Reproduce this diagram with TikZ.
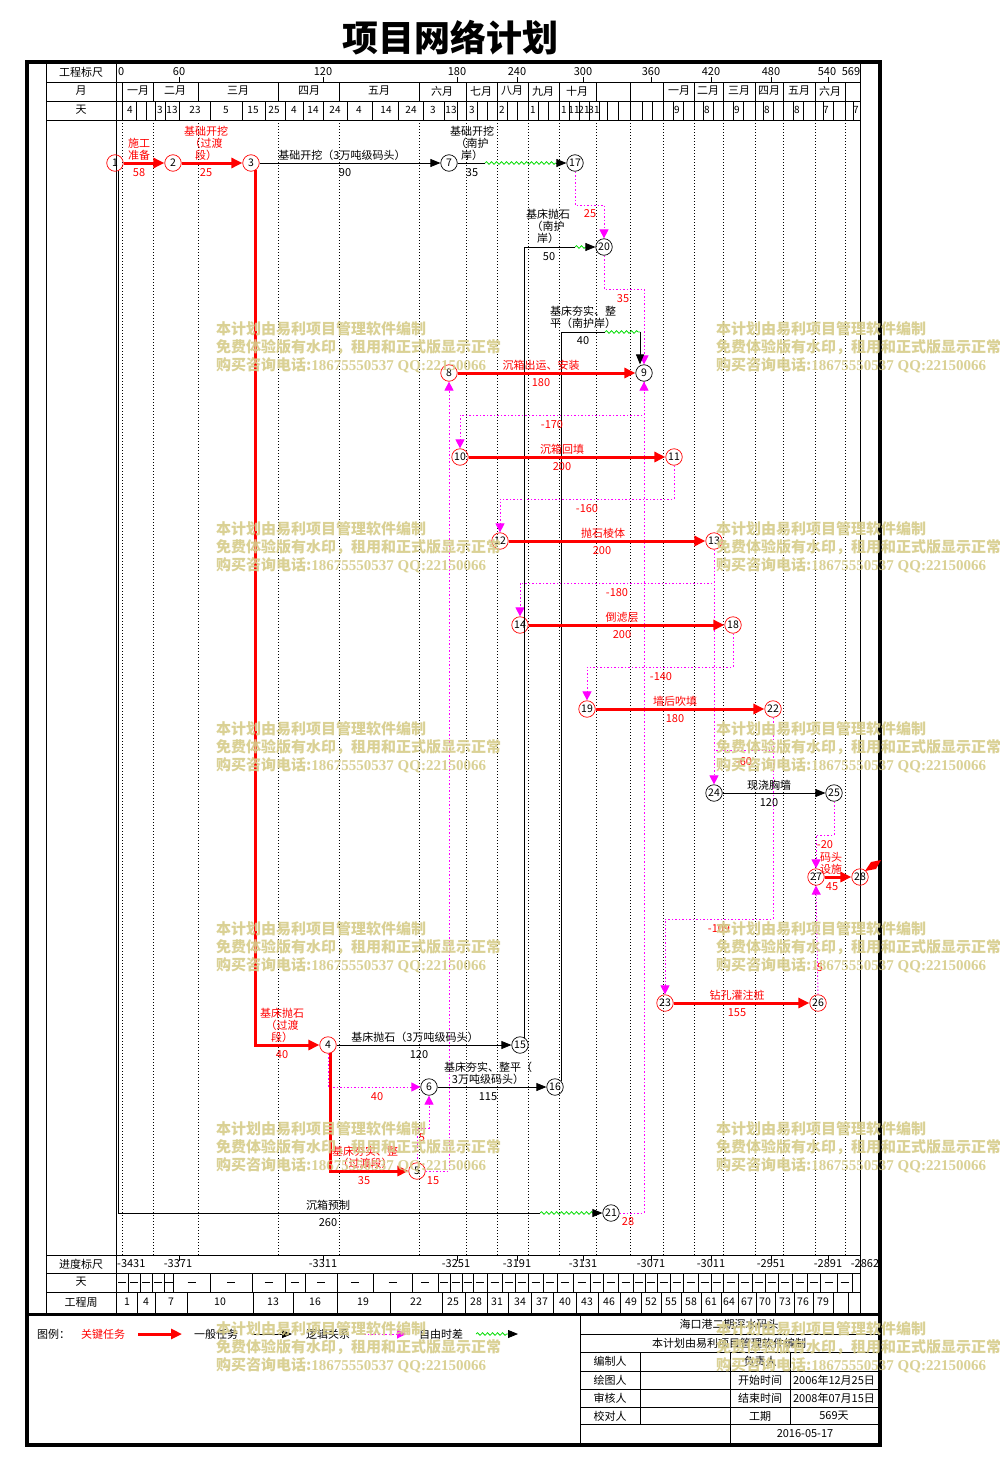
\documentclass[tikz,border=0pt]{standalone}
\usepackage{fontspec}
\setmainfont{Noto Sans CJK SC}
\newfontfamily\wmdig{Liberation Serif}
\usetikzlibrary{arrows.meta,decorations.pathmorphing,calc}
\definecolor{mag}{RGB}{255,0,255}
\definecolor{flg}{RGB}{0,220,0}
\definecolor{wmc}{RGB}{214,204,138}
\definecolor{rd}{RGB}{255,0,0}
\begin{document}
\begin{tikzpicture}[x=1pt,y=-1pt,
  nd/.style={circle,draw=black,minimum size=16.5pt,inner sep=0pt,line width=0.7pt,font=\fontsize{10.5}{11}\selectfont},
  rnd/.style={nd,draw=rd},
  crit/.style={draw=rd,line width=3pt,-{Triangle[length=11pt,width=10pt]}},
  gen/.style={draw=black,line width=0.8pt},
  genarr/.style={gen,-{Triangle[length=10pt,width=8pt]}},
  lnk/.style={draw=mag,line width=0.9pt,dash pattern=on 1.5pt off 2pt},
  lnkarr/.style={lnk,-{Triangle[length=9pt,width=9pt]}},
  flt/.style={draw=flg,line width=0.8pt,decorate,decoration={snake,amplitude=1.3pt,segment length=5pt}},
  lbl/.style={font=\fontsize{11}{12}\selectfont,inner sep=0pt,align=center},
  rl/.style={lbl,text=rd},
  hl/.style={font=\fontsize{11}{12}\selectfont,inner sep=0pt},
  gridln/.style={draw=black,line width=0.6pt,dash pattern=on 1pt off 2pt},
  thinln/.style={draw=black,line width=0.7pt},
  wmk/.style={font=\fontsize{15}{18}\selectfont\bfseries,text=wmc,inner sep=0pt,anchor=west,opacity=0.9}
]
\useasboundingbox (0,0) rectangle (999,1464);
\fill[white] (0,0) rectangle (999,1464);

% title
\node[font=\fontsize{36}{38}\selectfont\bfseries,inner sep=0pt] (title) at (450,38) {项目网络计划};

% frame and grid
\draw[line width=4pt] (27,62) rectangle (880,1445);
\draw[line width=3pt] (27,1314) -- (880,1314);
\draw[thinln] (46,62) -- (46,1314);
\draw[thinln] (116,62) -- (116,1314);
\draw[thinln] (860,62) -- (860,1314);
\foreach \y in {82,101,120,1255,1273,1292} \draw[thinln] (46,\y) -- (860,\y);
\foreach \x in {122,153,198,278,339,419,466,497,528,559,596,630,663,694,723,755,783,815,845} {
  \draw[thinln] (\x,82) -- (\x,101);
  \draw[gridln] (\x,120) -- (\x,1255);
}
\foreach \x in {122,136,146,155,165,179,210,242,265,285,303,323,347,372,398,423,444,457,466,477,487,497,507,517,528,538,548,559,569,579,589,599,607,618,630,642,652,663,673,683,694,703,713,723,733,743,755,763,773,783,793,803,815,823,833,845,853}
  \draw[thinln] (\x,101) -- (\x,120);
\foreach \x in {179,323,457,517,583,651,711,771,828} {
  \draw[thinln] (\x,77) -- (\x,82);
  \draw[thinln] (\x,1255) -- (\x,1261);
}

% header labels
\node[hl] (h1) at (81,72) {工程标尺};
\node[hl] (h2) at (81,91) {月};
\node[hl] (h3) at (81,110) {天};
\node[hl] (h4) at (81,1264) {进度标尺};
\node[hl] (h5) at (81,1282) {天};
\node[hl] (h6) at (81,1302) {工程周};

\node[hl,anchor=west] (s0) at (118,72) {0};
\foreach \x/\t [count=\i] in {179/60,323/120,457/180,517/240,583/300,651/360,711/420,771/480,827/540,851/569}
  \node[hl] (s\i) at (\x,72) {\t};

\foreach \x/\t [count=\i] in {138/一月,175/二月,238/三月,309/四月,379/五月,442/六月,481/七月,512/八月,543/九月,577/十月,679/一月,708/二月,739/三月,769/四月,799/五月,830/六月}
  \node[hl] (m\i) at (\x,91) {\t};

\foreach \x/\t [count=\i] in {130/4,160/3,172/13,195/23,226/5,253/15,274/25,294/4,313/14,335/24,359/4,386/14,411/24,433/3,451/13,472/3,502/2,533/1,564/1,574/11,584/21,594/31,677/9,707/8,737/9,767/8,797/8,826/7,856/7}
  \node[hl,font=\fontsize{10}{11}\selectfont] (d\i) at (\x,110) {\t};

% footer
\node[hl,anchor=west] (p0) at (117,1264) {-3431};
\foreach \x/\t [count=\i] in {178/-3371,323/-3311,456/-3251,517/-3191,583/-3131,651/-3071,711/-3011,771/-2951,828/-2891,865/-2862}
  \node[hl] (p\i) at (\x,1264) {\t};

\foreach \a/\b in {116/128,128/140,140/152,152/164,164/173,173/210,210/252,252/285,285/305,305/337,337/373,373/412,412/438,438/450,450/462,462/473,473/487,487/502,502/515,515/528,528/543,543/557,557/573,573/590,590/603,603/618,618/633,633/645,645/657,657/670,670/683,683/698,698/711,711/723,723/738,738/752,752/765,765/778,778/792,792/807,807/820,820/837,837/852} {
  \draw[thinln] (\b,1273) -- (\b,1292);
  \draw[line width=0.8pt] ({(\a+\b)/2-4},1282) -- ++(8,0);
}

\foreach \x in {137,155,187,253,293,337,390,442,465,487,508,531,553,576,598,620,641,661,681,701,721,738,756,775,794,813,833,848}
  \draw[thinln] (\x,1292) -- (\x,1314);
\foreach \x/\t [count=\i] in {127/1,146/4,171/7,220/10,273/13,315/16,363/19,416/22,453/25,476/28,497/31,520/34,542/37,565/40,587/43,609/46,631/49,651/52,671/55,691/58,711/61,729/64,747/67,765/70,785/73,803/76,823/79}
  \node[hl,font=\fontsize{10.5}{11}\selectfont] (w\i) at (\x,1302) {\t};

% nodes
\node[rnd] (n1) at (115,163) {1};
\node[rnd] (n2) at (173,163) {2};
\node[rnd] (n3) at (251,163) {3};
\node[nd] (n7) at (449,163) {7};
\node[nd] (n17) at (575,163) {17};
\node[nd] (n20) at (604,247) {20};
\node[rnd] (n8) at (449,373) {8};
\node[nd] (n9) at (644,373) {9};
\node[rnd] (n10) at (460,457) {10};
\node[rnd] (n11) at (674,457) {11};
\node[rnd] (n12) at (500,541) {12};
\node[rnd] (n13) at (714,541) {13};
\node[rnd] (n14) at (520,625) {14};
\node[rnd] (n18) at (733,625) {18};
\node[rnd] (n19) at (587,709) {19};
\node[rnd] (n22) at (773,709) {22};
\node[nd] (n24) at (714,793) {24};
\node[nd] (n25) at (834,793) {25};
\node[rnd] (n27) at (816,877) {27};
\node[rnd] (n28) at (860,877) {28};
\node[rnd] (n23) at (665,1003) {23};
\node[rnd] (n26) at (818,1003) {26};
\node[rnd] (n4) at (328,1045) {4};
\node[nd] (n15) at (520,1045) {15};
\node[nd] (n6) at (429,1087) {6};
\node[nd] (n16) at (555,1087) {16};
\node[rnd] (n5) at (417,1171) {5};
\node[nd] (n21) at (611,1213) {21};

% coordinates
\coordinate (f7a) at (485,163);
\coordinate (f7b) at (556,163);
\coordinate (f15a) at (575,247);
\coordinate (f15b) at (586,247);
\coordinate (f16a) at (605,332);
\coordinate (f16b) at (640,332);
\coordinate (f1a) at (540,1213);
\coordinate (f1b) at (596,1213);
\coordinate (l17) at (604,205);
\coordinate (l20) at (644,289);
\coordinate (l9) at (460,415);
\coordinate (l11) at (500,499);
\coordinate (l13) at (520,583);
\coordinate (l18) at (587,667);
\coordinate (l22a) at (714,750);
\coordinate (l22b) at (665,919);
\coordinate (l25) at (816,835);
\coordinate (l5) at (429,1128);

% logic links
\draw[lnkarr] (n17.south) |- (l17) -- (n20.north);
\draw[lnkarr] (n20.south) |- (l20) -- (n9.north);
\draw[lnkarr] (n5.east) -| (n8.south);
\draw[lnkarr] (n21.east) -| (n9.south);
\draw[lnkarr] (n4.south) |- (n6.west);
\draw[lnkarr] (n5.north) |- (l5) -- (n6.south);
\draw[lnkarr] (n9.south) |- (l9) -- (n10.north);
\draw[lnkarr] (n11.south) |- (l11) -- (n12.north);
\draw[lnkarr] (n13.south) |- (l13) -- (n14.north);
\draw[lnkarr] (n18.south) |- (l18) -- (n19.north);
\draw[lnkarr] (n13.south) -- (n24.north);
\draw[lnk] (n22.south) |- (l22a);
\draw[lnkarr] (n22.south) |- (l22b) -- (n23.north);
\draw[lnkarr] (n25.south) |- (l25) -- (n27.north);
\draw[lnkarr] (n26.north) -- (n27.south);

% general tasks
\draw[genarr] (n3) -- (n7);
\draw[gen] (n7) -- (f7a);
\draw[flt] (f7a) -- (f7b);
\draw[genarr] (f7b) -- (n17);
\draw[gen] (n15.60) |- (f15a);
\draw[flt] (f15a) -- (f15b);
\draw[genarr] (f15b) -- (n20);
\draw[gen] (n16.45) |- (f16a);
\draw[flt] (f16a) -- (f16b);
\draw[genarr] (f16b) -- (f16b |- n9.north);
\draw[genarr] (n4) -- (n15);
\draw[genarr] (n6) -- (n16);
\draw[gen] (n1.-70) |- (f1a);
\draw[flt] (f1a) -- (f1b);
\draw[genarr] (f1b) -- (n21);
\draw[genarr] (n24) -- (n25);

% critical tasks
\draw[crit] (n1) -- (n2);
\draw[crit] (n2) -- (n3);
\draw[crit] (n3.-60) |- (n4);
\draw[crit] (n4.-70) |- (n5);
\draw[crit] (n8) -- (n9);
\draw[crit] (n10) -- (n11);
\draw[crit] (n12) -- (n13);
\draw[crit] (n14) -- (n18);
\draw[crit] (n19) -- (n22);
\draw[crit] (n23) -- (n26);
\draw[crit] (n27) -- (n28);
\fill[rd] (865,871) -- (871,862) -- (881,860) -- (876,869) -- cycle;

% labels
\node[rl] (t1) at (139,149) {施工\\准备};
\node[rl] (t2) at (139,173) {58};
\node[rl] (t3) at (206,143) {基础开挖\\（过渡\\段）};
\node[rl] (t4) at (206,173) {25};
\node[lbl] (t5) at (342,155) {基础开挖（3万吨级码头）};
\node[lbl] (t6) at (345,173) {90};
\node[lbl] (t7) at (472,143) {基础开挖\\（南护\\岸）};
\node[lbl] (t8) at (472,173) {35};
\node[lbl] (t9) at (548,226) {基床抛石\\（南护\\岸）};
\node[lbl] (t10) at (549,257) {50};
\node[rl] (t11) at (590,214) {25};
\node[lbl] (t12) at (583,317) {基床夯实、整\\平（南护岸）};
\node[lbl] (t13) at (583,341) {40};
\node[rl] (t14) at (623,299) {35};
\node[rl] (t15) at (541,365) {沉箱出运、安装};
\node[rl] (t16) at (541,383) {180};
\node[rl] (t17) at (552,425) {-170};
\node[rl] (t18) at (562,449) {沉箱回填};
\node[rl] (t19) at (562,467) {200};
\node[rl] (t20) at (587,509) {-160};
\node[rl] (t21) at (603,533) {抛石棱体};
\node[rl] (t22) at (602,551) {200};
\node[rl] (t23) at (617,593) {-180};
\node[rl] (t24) at (622,617) {倒滤层};
\node[rl] (t25) at (622,635) {200};
\node[rl] (t26) at (661,677) {-140};
\node[rl] (t27) at (675,701) {墙后吹填};
\node[rl] (t28) at (675,719) {180};
\node[rl] (t29) at (744,762) {-60};
\node[lbl] (t30) at (769,785) {现浇胸墙};
\node[lbl] (t31) at (769,803) {120};
\node[rl] (t32) at (825,845) {-20};
\node[rl] (t33) at (831,863) {码头\\设施};
\node[rl] (t34) at (832,887) {45};
\node[rl] (t35) at (719,929) {-109};
\node[rl] (t36) at (818,968) {-5};
\node[rl] (t37) at (737,995) {钻孔灌注桩};
\node[rl] (t38) at (737,1013) {155};
\node[rl] (t39) at (282,1025) {基床抛石\\（过渡\\段）};
\node[rl] (t40) at (282,1055) {40};
\node[lbl] (t41) at (415,1037) {基床抛石（3万吨级码头）};
\node[lbl] (t42) at (419,1055) {120};
\node[lbl] (t43) at (488,1073) {基床夯实、整平（\\3万吨级码头）};
\node[lbl] (t44) at (488,1097) {115};
\node[rl] (t45) at (377,1097) {40};
\node[rl] (t46) at (422,1138) {5};
\node[rl] (t47) at (365,1157) {基床夯实、整\\（过渡段）};
\node[rl] (t48) at (364,1181) {35};
\node[rl] (t49) at (433,1181) {15};
\node[lbl] (t50) at (328,1205) {沉箱预制};
\node[lbl] (t51) at (328,1223) {260};
\node[rl] (t52) at (628,1222) {28};

% legend
\coordinate (g1a) at (138,1334);
\coordinate (g1b) at (182,1334);
\coordinate (g2a) at (252,1334);
\coordinate (g2b) at (292,1334);
\coordinate (g3a) at (364,1334);
\coordinate (g3b) at (406,1334);
\coordinate (g4a) at (476,1334);
\coordinate (g4b) at (508,1334);
\coordinate (g4c) at (518,1334);
\node[lbl,anchor=west] (lg0) at (37,1334) {图例：};
\node[rl] (lg1) at (103,1334) {关键任务};
\draw[crit] (g1a) -- (g1b);
\node[lbl] (lg2) at (216,1334) {一般任务};
\draw[genarr] (g2a) -- (g2b);
\node[lbl] (lg3) at (328,1334) {逻辑关系};
\draw[lnkarr] (g3a) -- (g3b);
\node[lbl] (lg4) at (441,1334) {自由时差};
\draw[flt] (g4a) -- (g4b);
\draw[genarr] (g4b) -- (g4c);

% table
\draw[thinln] (580,1314) -- (580,1445);
\foreach \y in {1334,1352,1371,1389,1407,1424} \draw[thinln] (580,\y) -- (879,\y);
\draw[thinln] (640,1352) -- (640,1424);
\draw[thinln] (730,1352) -- (730,1445);
\draw[thinln] (790,1352) -- (790,1424);
\node[lbl] (tb1) at (729,1324) {海口港二期深水码头};
\node[lbl] (tb2) at (729,1343) {本计划由易利项目管理软件编制};
\node[lbl] (tb3) at (610,1361) {编制人};
\node[lbl] (tb4) at (610,1380) {绘图人};
\node[lbl] (tb5) at (610,1398) {审核人};
\node[lbl] (tb6) at (610,1416) {校对人};
\node[lbl] (tb7) at (760,1361) {负责人};
\node[lbl] (tb8) at (760,1380) {开始时间};
\node[lbl] (tb9) at (760,1398) {结束时间};
\node[lbl] (tb10) at (760,1416) {工期};
\node[lbl] (tb11) at (834,1380) {2006年12月25日};
\node[lbl] (tb12) at (834,1398) {2008年07月15日};
\node[lbl] (tb13) at (834,1416) {569天};
\node[lbl] (tb14) at (805,1434) {2016-05-17};

% watermarks
\foreach \wy [count=\j] in {329,529,729,929,1129,1329} {
  \foreach \wx [count=\k] in {216,716} {
    \node[wmk] (wa\j\k) at (\wx,\wy) {本计划由易利项目管理软件编制};
    \node[wmk] (wb\j\k) at (\wx,\wy+18) {免费体验版有水印，租用和正式版显示正常};
    \node[wmk] (wc\j\k) at (\wx,\wy+36) {购买咨询电话:{\wmdig 18675550537 QQ:22150066}};
  }
}
\end{tikzpicture}
\end{document}
